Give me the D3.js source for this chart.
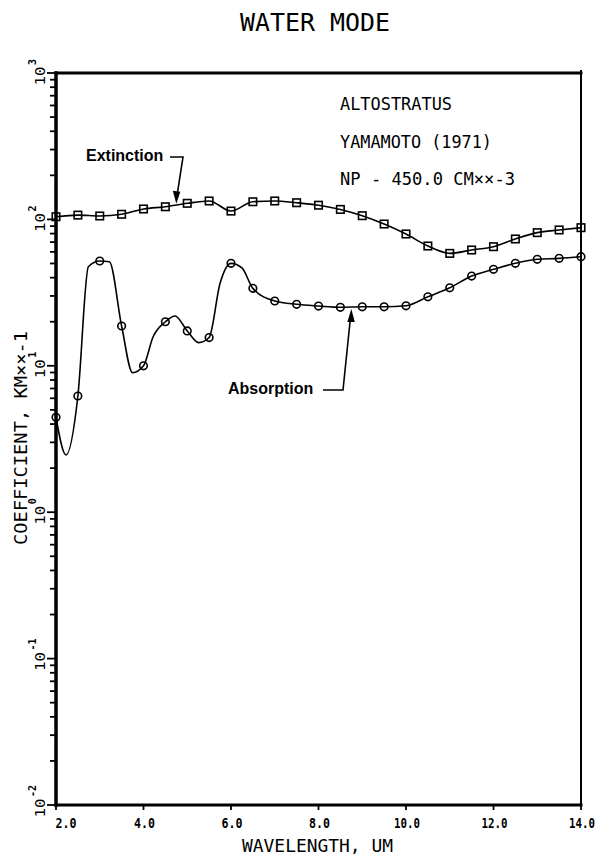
<!DOCTYPE html>
<html>
<head>
<meta charset="utf-8">
<script src="https://cdn.jsdelivr.net/npm/d3@7"></script>
<style>
  html, body { margin: 0; padding: 0; background: #fff; }
  svg { display: block; }
  .plot { font-family: "DejaVu Sans Mono", monospace; fill: #000; }
</style>
</head>
<body>
<script>
// ---- data ----
const wavelengths = [2.0, 2.5, 3.0, 3.5, 4.0, 4.5, 5.0, 5.5, 6.0, 6.5, 7.0, 7.5, 8.0,
                     8.5, 9.0, 9.5, 10.0, 10.5, 11.0, 11.5, 12.0, 12.5, 13.0, 13.5, 14.0];
const extinction = [104.3, 107, 105.5, 108.4, 117.8, 122, 128.8, 133.6, 114, 132, 133.6, 130, 125,
                    117, 106, 93, 79.5, 65.8, 58.6, 61.8, 65.1, 73.5, 81.2, 84.7, 87.8];
const absorption = [4.45, 6.22, 52, 18.7, 10.0, 20.0, 17.3, 15.6, 50.1, 33.8, 27.7, 26.3, 25.6,
                    25.1, 25.3, 25.3, 25.7, 29.6, 34.1, 41.0, 45.6, 50.1, 53.4, 54.2, 55.6];
// extra points of the fine absorption curve between markers
const absExtraWl  = [2.23, 2.74, 3.22, 3.75, 4.22, 4.72, 5.26, 5.75, 6.25];
const absExtraVal = [2.46, 47.5, 51.4, 8.97, 15.8, 21.9, 14.4, 36.6, 46.6];

const xTicks = [2, 4, 6, 8, 10, 12, 14];
const xTickLabels = ["2.0", "4.0", "6.0", "8.0", "10.0", "12.0", "14.0"];
const yExponents = [-2, -1, 0, 1, 2, 3];
const titleText = "WATER MODE";
const xTitle = "WAVELENGTH, UM";
const yTitle = "COEFFICIENT, KM××-1";
const infoLines = ["ALTOSTRATUS", "YAMAMOTO (1971)", "NP - 450.0 CM××-3"];

// ---- layout ----
const W = 604, H = 856;
const m = { left: 56, right: 581, top: 73, bottom: 805 };

const svg = d3.select("body").append("svg")
  .attr("width", W).attr("height", H).attr("class", "plot");

const x = d3.scaleLinear().domain([2, 14]).range([m.left, m.right]);
const y = d3.scaleLog().domain([0.01, 1000]).range([m.bottom, m.top]);

// title
svg.append("text").attr("x", 240).attr("y", 31)
  .attr("font-size", 25).attr("textLength", 150).attr("lengthAdjust", "spacingAndGlyphs")
  .text(titleText);

// frame
const fr = svg.append("g").attr("stroke", "#000").attr("stroke-linecap", "square");
fr.append("line").attr("x1", m.left).attr("x2", m.right).attr("y1", m.top).attr("y2", m.top).attr("stroke-width", 3);
fr.append("line").attr("x1", m.left).attr("x2", m.right).attr("y1", m.bottom).attr("y2", m.bottom).attr("stroke-width", 3);
fr.append("line").attr("x1", m.left).attr("x2", m.left).attr("y1", m.top).attr("y2", m.bottom).attr("stroke-width", 3.5);
fr.append("line").attr("x1", m.right).attr("x2", m.right).attr("y1", m.top - 2).attr("y2", m.bottom).attr("stroke-width", 2);

// y ticks (major + minor)
const yTickVals = [];
yExponents.forEach(e => {
  yTickVals.push({ v: Math.pow(10, e), major: true });
  if (e < 3) for (let k = 2; k <= 9; k++) yTickVals.push({ v: k * Math.pow(10, e), major: false });
});
svg.append("g").selectAll("line").data(yTickVals).join("line")
  .attr("x1", d => m.left - (d.major ? 9 : 6)).attr("x2", m.left)
  .attr("y1", d => y(d.v)).attr("y2", d => y(d.v))
  .attr("stroke", "#000").attr("stroke-width", 1.8);

// y tick labels: rotated "10" with exponent
const yl = svg.append("g").selectAll("g").data(yExponents).join("g")
  .attr("transform", e => `translate(45,${y(Math.pow(10, e))}) rotate(-90)`);
yl.append("text").attr("x", -3).attr("y", 0).attr("text-anchor", "middle")
  .attr("font-size", 14).attr("textLength", 19).attr("lengthAdjust", "spacingAndGlyphs").text("10");
yl.append("text").attr("x", 8).attr("y", -9).attr("text-anchor", "start")
  .attr("font-size", 10).attr("font-weight", "bold").text(e => String(e));

// x ticks + labels
svg.append("g").selectAll("line").data(xTicks).join("line")
  .attr("x1", d => x(d)).attr("x2", d => x(d))
  .attr("y1", m.bottom).attr("y2", m.bottom + 5)
  .attr("stroke", "#000").attr("stroke-width", 1.8);
svg.append("g").selectAll("text").data(xTicks).join("text")
  .attr("x", (d, i) => x(d) + (i === 0 ? 10 : 1))
  .attr("y", 828).attr("text-anchor", "middle")
  .attr("font-size", 14).attr("font-weight", "bold")
  .attr("textLength", (d, i) => xTickLabels[i].length === 3 ? 21 : 26)
  .attr("lengthAdjust", "spacingAndGlyphs")
  .text((d, i) => xTickLabels[i]);

// axis titles
svg.append("text").attr("x", 242).attr("y", 852)
  .attr("font-size", 18).attr("textLength", 151).attr("lengthAdjust", "spacingAndGlyphs")
  .text(xTitle);
svg.append("text").attr("transform", "translate(27,545) rotate(-90)")
  .attr("font-size", 17).attr("textLength", 214).attr("lengthAdjust", "spacingAndGlyphs")
  .text(yTitle);

// info text
const infoY = [110, 148, 185];
const infoLen = [112, 152, 175];
svg.append("g").selectAll("text").data(infoLines).join("text")
  .attr("x", 340).attr("y", (d, i) => infoY[i])
  .attr("font-size", 17).attr("textLength", (d, i) => infoLen[i]).attr("lengthAdjust", "spacingAndGlyphs")
  .text(d => d);

// ---- curves ----
const extData = wavelengths.map((w, i) => ({ w, v: extinction[i] }));
const absMarkers = wavelengths.map((w, i) => ({ w, v: absorption[i] }));
const absCurve = absMarkers.concat(absExtraWl.map((w, i) => ({ w, v: absExtraVal[i] })))
  .sort((a, b) => a.w - b.w);

const line = d3.line().x(d => x(d.w)).y(d => y(d.v)).curve(d3.curveMonotoneX);

svg.append("path").datum(extData).attr("d", line)
  .attr("fill", "none").attr("stroke", "#000").attr("stroke-width", 1.6);
svg.append("path").datum(absCurve).attr("d", line)
  .attr("fill", "none").attr("stroke", "#000").attr("stroke-width", 1.6);

const sq = 7.5;
svg.append("g").selectAll("rect").data(extData).join("rect")
  .attr("x", d => x(d.w) - sq / 2).attr("y", d => y(d.v) - sq / 2)
  .attr("width", sq).attr("height", sq)
  .attr("fill", "none").attr("stroke", "#000").attr("stroke-width", 1.6);
svg.append("g").selectAll("circle").data(absMarkers).join("circle")
  .attr("cx", d => x(d.w)).attr("cy", d => y(d.v)).attr("r", 3.8)
  .attr("fill", "none").attr("stroke", "#000").attr("stroke-width", 1.6);

// ---- annotations ----
const ann = svg.append("g");
ann.append("text").attr("x", 86).attr("y", 161)
  .attr("font-family", "Liberation Sans, Arial, sans-serif").attr("font-weight", "bold")
  .attr("font-size", 16).text("Extinction");
ann.append("text").attr("x", 228).attr("y", 394)
  .attr("font-family", "Liberation Sans, Arial, sans-serif").attr("font-weight", "bold")
  .attr("font-size", 16).text("Absorption");

// extinction leader: arrow down to curve near 4.75 um
const exTipX = x(4.75), exTipY = y(124) - 2;
ann.append("path")
  .attr("d", `M170,157 L183,157 L${exTipX + 1},${exTipY - 10}`)
  .attr("fill", "none").attr("stroke", "#000").attr("stroke-width", 1.6);
ann.append("path")
  .attr("d", `M${exTipX},${exTipY} L${exTipX - 3.5},${exTipY - 13} L${exTipX + 4},${exTipY - 12} Z`)
  .attr("fill", "#000");

// absorption leader: arrow up to curve near 8.75 um
const abTipX = x(8.75), abTipY = y(25.2) + 2;
ann.append("path")
  .attr("d", `M323,390 L343,390 L${abTipX - 1},${abTipY + 10}`)
  .attr("fill", "none").attr("stroke", "#000").attr("stroke-width", 1.6);
ann.append("path")
  .attr("d", `M${abTipX},${abTipY} L${abTipX - 4},${abTipY + 13} L${abTipX + 3.5},${abTipY + 13} Z`)
  .attr("fill", "#000");
</script>
</body>
</html>
